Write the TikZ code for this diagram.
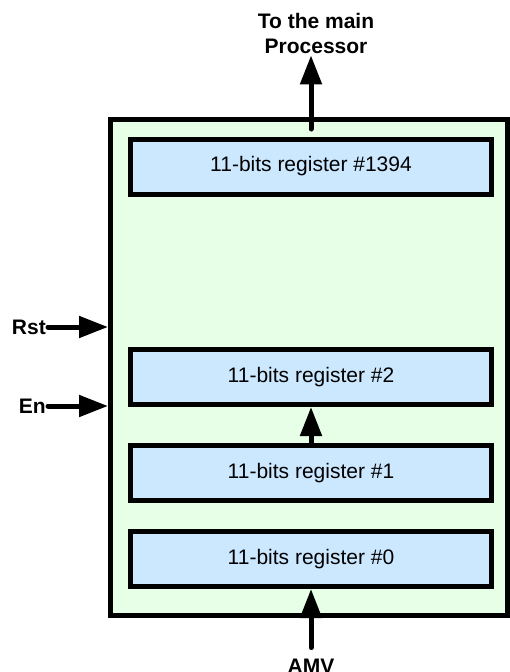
\documentclass[tikz,border=0pt]{standalone}
\usepackage{fontspec}
\setmainfont{Liberation Sans}
\usetikzlibrary{arrows.meta}
\definecolor{ink}{HTML}{000000}
\definecolor{chipbg}{HTML}{E6FFE6}
\definecolor{regbg}{HTML}{CCE8FF}
\tikzset{
  chip/.style={draw=ink, fill=chipbg, line width=5pt, minimum width=397pt, minimum height=496pt, inner sep=0pt},
  reg/.style={draw=ink, fill=regbg, line width=5pt, minimum width=361pt, minimum height=55pt, inner sep=0pt, font=\fontsize{21}{25}\selectfont},
  sig/.style={draw=ink, line width=5pt, line cap=round, -{Triangle[length=29pt,width=21pt]}},
  lab/.style={text=ink, font=\fontsize{21}{25}\selectfont\bfseries, inner sep=2pt, align=center},
}

\begin{document}
\begin{tikzpicture}[x=1pt,y=-1pt]
  \useasboundingbox (0,0) rectangle (510,672);
  \node[chip] (chip) at (309,367.5) {};
  \node[reg] (r1394) at (311,166.5) {11-bits register \#1394};
  \node[reg] (r2) at (311,377) {11-bits register \#2};
  \node[reg] (r1) at (311,473) {11-bits register \#1};
  \node[reg] (r0) at (311,559) {11-bits register \#0};
  \node[lab] (proc) at (316,33) {To the main\\Processor};
  \node[lab] (amv) at (311,666) {AMV};
  \node[lab, anchor=east] (rst) at (48,327) {Rst};
  \node[lab, anchor=east] (en) at (48,406) {En};
  \draw[sig] ([yshift=7.5pt]r1394.north) -- (r1394.north |- proc.south);
  \draw[sig] (r1.north) -- (r2.south);
  \draw[sig] ([yshift=9pt]amv.north) -- (r0.south);
  \draw[sig] (rst.east) -- (rst.east -| chip.west);
  \draw[sig] (en.east) -- (en.east -| chip.west);
\end{tikzpicture}
\end{document}
